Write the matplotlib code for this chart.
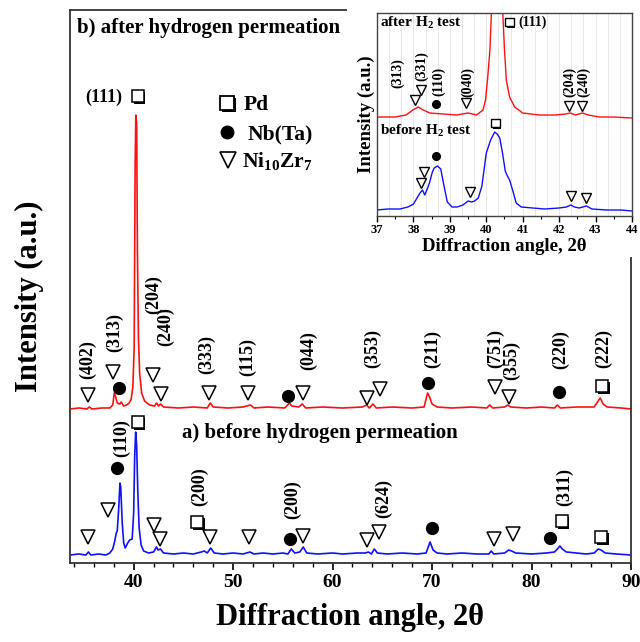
import numpy as np
import matplotlib
matplotlib.use("Agg")
import matplotlib.pyplot as plt
import matplotlib.patheffects as pe
from matplotlib.patches import Rectangle
from matplotlib.ticker import MultipleLocator

plt.rcParams['font.family'] = 'Liberation Serif'
plt.rcParams['font.weight'] = 'bold'
plt.rcParams['axes.labelweight'] = 'bold'
plt.rcParams['mathtext.fontset'] = 'custom'
plt.rcParams['mathtext.rm'] = 'Liberation Serif:bold'
plt.rcParams['mathtext.bf'] = 'Liberation Serif:bold'
plt.rcParams['mathtext.it'] = 'Liberation Serif:bold:italic'

# ---- main patterns (2theta, intensity a.u.) ----
blue_x = [33.6, 34.5, 35.2, 35.45, 35.7, 36.5, 37.2, 37.6, 37.9, 38.1, 38.25, 38.35, 38.5, 38.62,
          38.7, 38.85, 39.0, 39.15, 39.4, 39.6, 39.85, 40.0, 40.1, 40.2, 40.3, 40.42, 40.55, 40.75,
          41.0, 41.5, 42.0, 42.3, 42.45, 42.7, 43.0, 44.0, 45.0, 46.0, 46.8, 47.1, 47.4, 47.75, 48.1,
          49.0, 50.0, 51.0, 51.7, 52.1, 53.0, 54.0, 55.0, 55.5, 55.85, 56.2, 56.7, 57.05, 57.4, 58.5,
          60.0, 61.0, 62.5, 63.3, 63.6, 63.9, 64.2, 64.5, 65.5, 67.0, 68.5, 69.4, 69.8, 70.1, 70.5,
          71.5, 73.0, 74.5, 75.7, 75.95, 76.2, 77.3, 77.7, 78.0, 78.4, 80.0, 81.5, 82.3, 82.6, 82.85,
          83.1, 83.5, 84.5, 85.5, 86.3, 86.7, 87.0, 87.4, 88.5, 90.0]
blue_y = [8, 9, 8, 11, 8, 9, 8, 10, 14, 22, 30, 32, 55, 80,
          76, 40, 20, 15, 20, 23, 24, 50, 105, 131, 118, 70, 35, 18,
          12, 10, 11, 16, 13, 14, 10, 9, 10, 9, 11, 12, 10, 15, 10,
          9, 10, 9, 11, 9, 10, 9, 10, 9, 14, 10, 11, 16, 10, 9,
          10, 9, 10, 10, 11, 9, 14, 10, 9, 10, 9, 10, 21, 13, 10,
          9, 10, 9, 9, 12, 9, 10, 13, 12, 10, 9, 10, 11, 14, 17,
          14, 11, 10, 9, 10, 14, 13, 10, 9, 8]

red_x = [33.6, 34.5, 35.3, 35.55, 35.8, 36.8, 37.6, 37.9, 38.05, 38.2, 38.35, 38.6, 38.75, 39.0,
         39.3, 39.55, 39.75, 39.92, 40.05, 40.15, 40.22, 40.3, 40.38, 40.48, 40.6, 40.8, 41.1, 41.6,
         42.1, 42.3, 42.5, 42.7, 43.0, 44.5, 46.0, 47.4, 47.7, 48.0, 49.5, 51.0, 51.75, 52.1, 53.5,
         55.2, 55.65, 55.9, 56.6, 56.95, 57.3, 59.0, 61.0, 63.0, 63.4, 63.7, 64.05, 64.4, 66.0, 68.0,
         69.2, 69.55, 69.75, 70.0, 70.5, 72.0, 74.0, 75.5, 75.8, 76.1, 77.3, 77.6, 77.9, 79.5, 81.0,
         82.3, 82.6, 82.9, 84.5, 86.3, 86.7, 86.9, 87.2, 87.6, 89.0, 90.0]
red_y = [154, 155, 154, 156, 154, 155, 155, 158, 170, 166, 160, 159, 161, 157,
         158, 160, 164, 176, 215, 400, 448, 440, 310, 225, 190, 170, 162, 158,
         157, 160, 157, 159, 156, 155, 156, 155, 160, 156, 155, 156, 158, 155, 156,
         155, 160, 157, 156, 159, 155, 156, 155, 156, 158, 155, 159, 155, 156, 155,
         156, 170, 166, 159, 156, 155, 156, 155, 158, 155, 156, 158, 156, 155, 156,
         155, 158, 155, 156, 156, 162, 165, 159, 156, 155, 154]

# ---- phase markers, main plot (2theta, height) ----
red_tri_x = [35.36, 37.88, 41.92, 42.72, 47.56, 51.49, 57.04, 63.49, 64.8, 76.29, 77.7]
red_tri_y = [168, 191, 188, 169, 170, 170, 170, 165, 174, 176, 166]
red_dot_x = [38.49, 55.52, 69.64, 82.74]
red_dot_y = [175, 167, 180, 171]
red_sq_x = [40.4, 87.08]
red_sq_y = [467, 177]

blue_tri_x = [35.36, 37.38, 42.02, 42.62, 47.66, 51.59, 57.04, 63.49, 64.7, 76.19, 78.1]
blue_tri_y = [26, 53, 38, 24, 26, 26, 27, 23, 31, 24, 29]
blue_dot_x = [38.29, 55.73, 70.04, 81.83]
blue_dot_y = [95, 24, 35, 25]
blue_sq_x = [40.4, 46.35, 83.04, 86.98]
blue_sq_y = [141, 41, 42, 26]

# ---- hkl labels, main plot ----
red_hkl = ['(402)', '(313)', '(204)', '(240)', '(333)', '(115)', '(044)', '(353)', '(211)',
           '(751)', '(355)', '(220)', '(222)']
red_hkl_x = [35.36, 38.08, 42.0, 43.25, 47.36, 51.49, 57.54, 64.0, 70.04, 76.39, 77.95, 82.94, 87.28]
red_hkl_y = [203, 231, 268, 236, 208, 206, 212, 214, 214, 215, 203, 213, 215]
blue_hkl = ['(110)', '(200)', '(200)', '(624)', '(311)']
blue_hkl_x = [38.79, 46.65, 55.93, 65.1, 83.35]
blue_hkl_y = [125, 76, 63, 65, 76]

# ---- inset patterns ----
in_blue_x = [37.0, 37.3, 37.63, 37.85, 38.0, 38.1, 38.18, 38.25, 38.31, 38.38, 38.44, 38.52, 38.57,
             38.66, 38.75, 38.84, 38.93, 39.06, 39.2, 39.36, 39.5, 39.6, 39.68, 39.78, 39.88, 40.0,
             40.12, 40.23, 40.3, 40.37, 40.45, 40.52, 40.58, 40.64, 40.73, 40.82, 40.96, 41.28, 41.6,
             42.0, 42.2, 42.32, 42.42, 42.55, 42.75, 42.9, 43.3, 43.7, 44.0]
in_blue_y = [6, 7, 7, 9, 12, 18, 23, 26, 21, 27, 33, 44, 48,
             50, 47, 30, 14, 9, 9, 11, 15, 14, 15, 18, 30, 63,
             76, 84, 82, 78, 62, 45, 40, 36, 25, 13, 9, 8, 7,
             8, 9, 11, 9, 8, 10, 7, 6, 6, 5]
in_red_x = [37.0, 37.5, 37.8, 37.98, 38.13, 38.27, 38.45, 38.82, 39.18, 39.5, 39.73, 39.91, 39.98,
            40.04, 40.1, 40.14, 40.2, 40.3, 40.4, 40.45, 40.5, 40.55, 40.64, 40.78, 41.0, 41.45,
            41.9, 42.18, 42.3, 42.45, 42.64, 42.8, 43.1, 43.5, 44.0]
in_red_y = [99, 99, 101, 106, 109, 106, 103, 102, 101, 103, 101, 106, 116,
            139, 166, 203, 260, 290, 260, 205, 166, 136, 119, 109, 103, 101,
            101, 102, 103, 101, 103, 101, 99, 99, 98]

in_red_tri_x = [38.04, 38.22, 39.45, 42.26, 42.64]
in_red_tri_y = [116, 126, 113, 110, 110]
in_blue_tri_x = [38.2, 38.3, 39.54, 42.32, 42.75]
in_blue_tri_y = [33, 44, 24, 20, 18]
in_dot_x = [38.63, 38.63]
in_dot_y = [112, 60]
in_sq_x = [40.64, 40.25]
in_sq_y = [194, 93]
in_hkl = ['(313)', '(331)', '(110)', '(040)', '(204)', '(240)']
in_hkl_x = [37.57, 38.22, 38.7, 39.48, 42.3, 42.67]
in_hkl_y = [143, 150, 135, 134, 134, 134]

shadow = [pe.SimplePatchShadow(offset=(1.3, -1.3), shadow_rgbFace='k', alpha=1.0), pe.Normal()]


def marks(a, tx, ty, dx, dy, sx, sy, s_tri, s_dot, s_sq, lw):
    a.plot(tx, ty, 'v', ms=s_tri, mfc='white', mec='k', mew=lw, ls='none', zorder=5)
    a.plot(dx, dy, 'o', ms=s_dot, mfc='k', mec='k', ls='none', zorder=5)
    a.plot(sx, sy, 's', ms=s_sq, mfc='white', mec='k', mew=lw, ls='none', zorder=5,
           path_effects=shadow)


fig = plt.figure(figsize=(6.4, 6.42), dpi=100)
ax = fig.add_axes([70 / 640, 79 / 642, 561 / 640, 553 / 642])

ax.plot(blue_x, blue_y, color='#1010ff', lw=1.2)
ax.plot(red_x, red_y, color='#ff1010', lw=1.2)
marks(ax, red_tri_x, red_tri_y, red_dot_x, red_dot_y, red_sq_x, red_sq_y, 10, 8.5, 8.5, 1.1)
marks(ax, blue_tri_x, blue_tri_y, blue_dot_x, blue_dot_y, blue_sq_x, blue_sq_y, 10, 8.5, 8.5, 1.1)

for t, x, y in zip(red_hkl, red_hkl_x, red_hkl_y):
    ax.text(x, y, t, rotation=90, ha='center', va='center', fontsize=13)
for t, x, y in zip(blue_hkl, blue_hkl_x, blue_hkl_y):
    ax.text(x, y, t, rotation=90, ha='center', va='center', fontsize=13)
ax.text(38.9, 466, '(111)', ha='right', va='center', fontsize=13)

# legend drawn by hand
ax.plot([49.38], [460], 's', ms=10, mfc='white', mec='k', mew=1.3, path_effects=shadow)
ax.plot([49.38], [431], 'o', ms=9, color='k')
ax.plot([49.48], [403], 'v', ms=11, mfc='white', mec='k', mew=1.2)
ax.text(51.1, 453, 'Pd', fontsize=15.5, va='baseline')
ax.text(51.4, 424, 'Nb(Ta)', fontsize=15.5, va='baseline')
ax.text(50.9, 396, 'Ni$_{10}$Zr$_{7}$', fontsize=15.5, va='baseline')

ax.text(0.0125, 0.967, 'b) after hydrogen permeation', transform=ax.transAxes,
        fontsize=15, va='center', ha='left')
ax.text(44.84, 130, 'a) before hydrogen permeation', fontsize=15, va='center', ha='left')

ax.set_xlim(33.6, 90)
ax.set_ylim(0, 553)
ax.set_yticks([])
ax.xaxis.set_major_locator(MultipleLocator(10))
ax.xaxis.set_minor_locator(MultipleLocator(2))
ax.tick_params(axis='x', which='major', length=5, width=1.2, labelsize=14, pad=3)
ax.tick_params(axis='x', which='minor', length=3, width=1.0)
for s in ax.spines.values():
    s.set_linewidth(1.3)
    s.set_color('#333333')
ax.set_xlabel('Diffraction angle, 2θ', fontsize=22, fontweight='bold')
ax.set_ylabel('Intensity (a.u.)', fontsize=22, fontweight='bold')
ax.xaxis.set_label_coords(0.5, -0.072)
ax.yaxis.set_label_coords(-0.0455, 0.483)

# white box behind the inset
fig.add_artist(Rectangle((347 / 640, 385 / 642), 293 / 640, 257 / 642, transform=fig.transFigure,
                         facecolor='white', edgecolor='none', zorder=2))

axi = fig.add_axes([377 / 640, 426 / 642, 255 / 640, 203 / 642])
axi.set_zorder(3)
for g in np.arange(37, 44.01, 1 / 3):
    axi.axvline(g, color='#e4e4e4', lw=0.6, zorder=0)
axi.plot(in_blue_x, in_blue_y, color='#1010ff', lw=1.0)
axi.plot(in_red_x, in_red_y, color='#ff1010', lw=1.0)
axi.plot(in_red_tri_x, in_red_tri_y, 'v', ms=7.5, mfc='white', mec='k', mew=1.0, ls='none')
axi.plot(in_blue_tri_x, in_blue_tri_y, 'v', ms=7.5, mfc='white', mec='k', mew=1.0, ls='none')
axi.plot(in_dot_x, in_dot_y, 'o', ms=5.5, color='k', ls='none')
axi.plot(in_sq_x, in_sq_y, 's', ms=6, mfc='white', mec='k', mew=1.0, ls='none',
         path_effects=[pe.SimplePatchShadow(offset=(1, -1), shadow_rgbFace='k', alpha=1.0), pe.Normal()])
for t, x, y in zip(in_hkl, in_hkl_x, in_hkl_y):
    axi.text(x, y, t, rotation=90, ha='center', va='center', fontsize=10)
axi.text(40.87, 194, '(111)', ha='left', va='center', fontsize=10)
axi.text(0.01, 0.95, 'after H$_2$ test', transform=axi.transAxes, fontsize=11, va='center')
axi.text(0.01, 0.42, 'before H$_2$ test', transform=axi.transAxes, fontsize=11, va='center')
axi.set_xlim(37, 44)
axi.set_ylim(0, 203)
axi.set_yticks([])
axi.xaxis.set_major_locator(MultipleLocator(1))
axi.xaxis.set_minor_locator(MultipleLocator(0.5))
axi.tick_params(axis='x', which='major', length=4, width=1.0, labelsize=9, pad=2)
axi.tick_params(axis='x', which='minor', length=2.5, width=0.8)
for s in axi.spines.values():
    s.set_linewidth(1.0)
    s.set_color('#444444')
axi.set_xlabel('Diffraction angle, 2θ', fontsize=13.5, fontweight='bold', labelpad=1)
axi.set_ylabel('Intensity (a.u.)', fontsize=13.5, fontweight='bold', labelpad=1.5)

fig.savefig('out.png', dpi=100)
